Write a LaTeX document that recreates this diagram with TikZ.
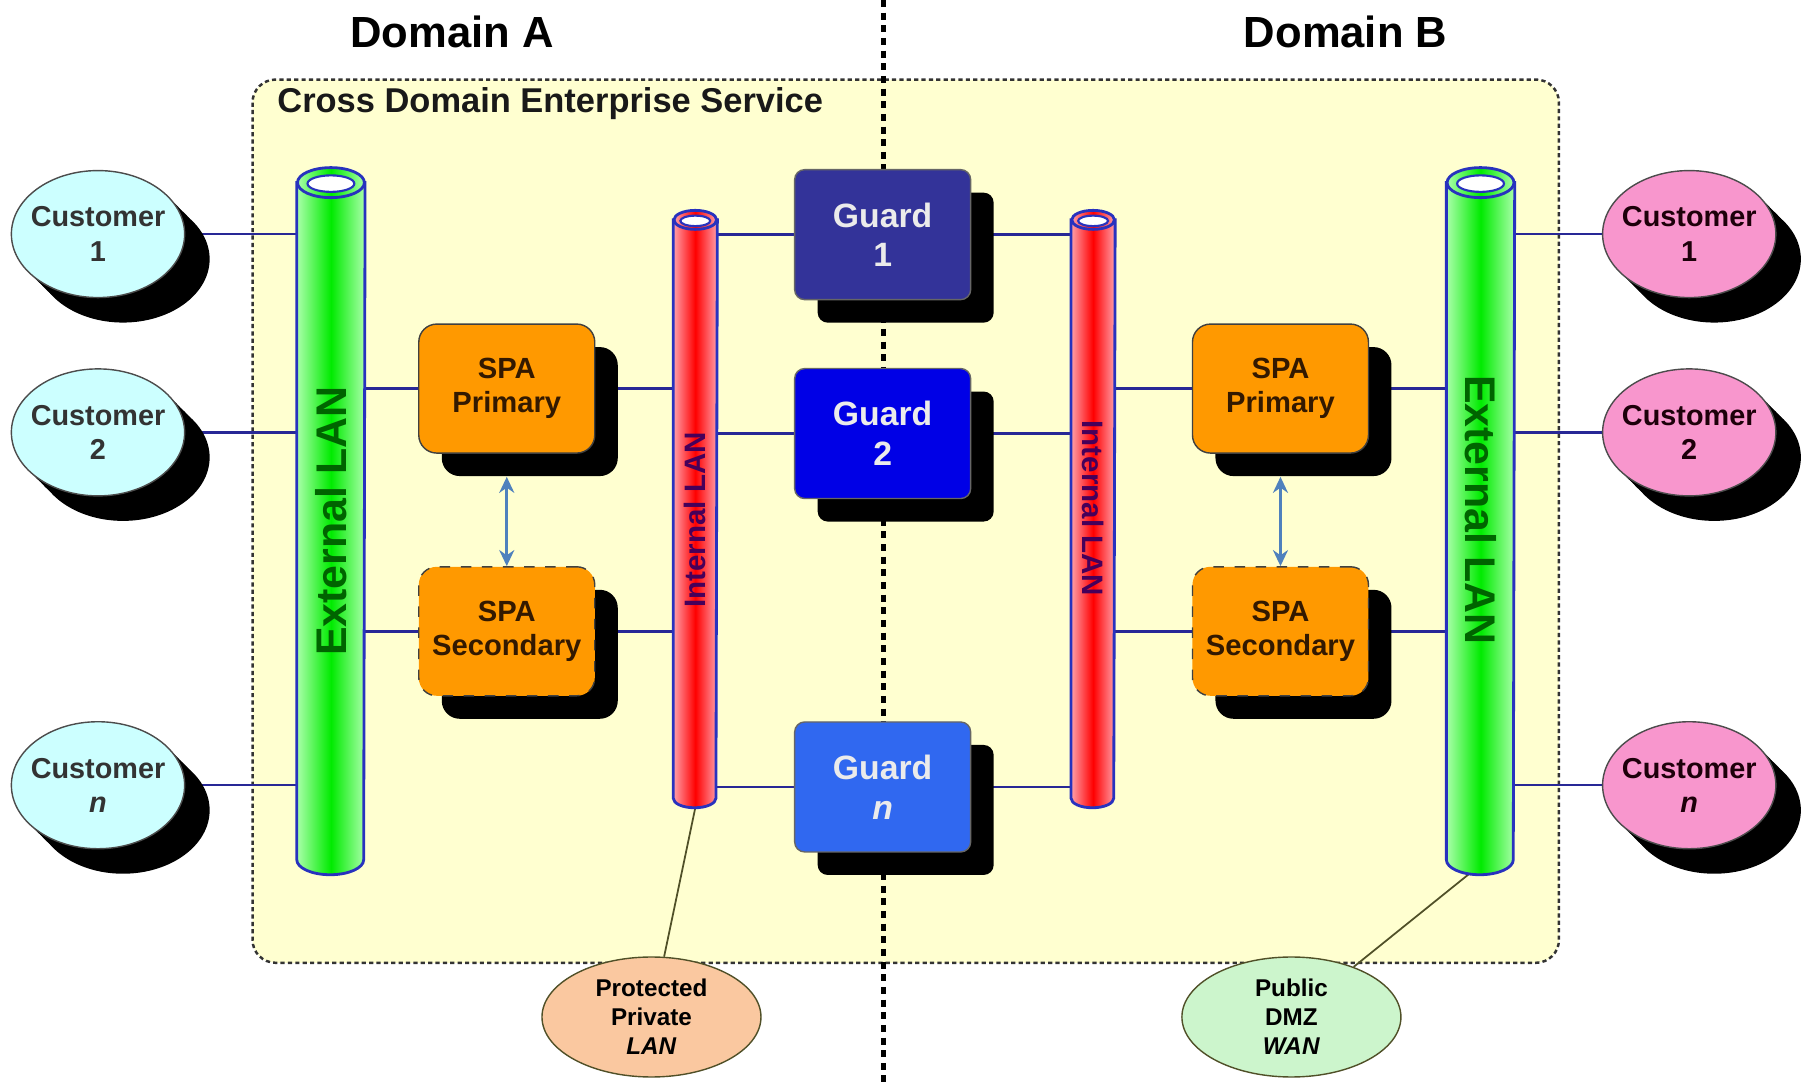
\documentclass[tikz,border=0pt]{standalone}
\usepackage{fontspec}
\setmainfont{Liberation Sans}
\usetikzlibrary{shapes,arrows.meta,positioning,calc,shadows}

\definecolor{boxyellow}{RGB}{255,255,208}
\definecolor{linkblue}{RGB}{40,40,150}
\definecolor{custcyan}{RGB}{204,255,255}
\definecolor{custpink}{RGB}{248,150,205}
\definecolor{spaorange}{RGB}{255,153,0}
\definecolor{guardone}{RGB}{51,51,153}
\definecolor{guardtwo}{RGB}{0,0,230}
\definecolor{guardn}{RGB}{48,104,240}
\definecolor{pipeedge}{RGB}{40,50,190}
\definecolor{extpale}{RGB}{170,255,170}
\definecolor{extmid}{RGB}{0,235,0}
\definecolor{intpale}{RGB}{255,160,170}
\definecolor{intmid}{RGB}{255,0,0}
\definecolor{lantext}{RGB}{0,100,0}
\definecolor{intlantext}{RGB}{70,0,90}
\definecolor{peach}{RGB}{250,200,160}
\definecolor{mint}{RGB}{204,245,204}
\definecolor{olive}{RGB}{80,80,40}
\definecolor{arrowblue}{RGB}{79,129,189}

\pgfdeclarelayer{bg}
\pgfdeclarelayer{lines}
\pgfsetlayers{bg,lines,main}

\begin{document}
\begin{tikzpicture}
[
	x=0.11531mm, y=0.11531mm,
	title/.style={font=\bfseries\fontsize{12.4}{14}\selectfont},
	svctitle/.style={inner sep=0pt, font=\bfseries\fontsize{9.8}{12}\selectfont, text=black!90},
	svcbox/.style={fill=boxyellow, draw=black!80, line width=0.7pt, dash pattern=on 1.2pt off 0.9pt, rounded corners=2.3mm},
	border/.style={line width=1.4pt, dash pattern=on 2pt off 1.6pt},
	cust/.style={ellipse, draw=black!70, thin, minimum width=17.3mm, minimum height=12.7mm, inner ysep=0pt, inner xsep=-0.6mm, align=center,
		font=\bfseries\fontsize{8.2}{9.8}\selectfont,
		general shadow={fill=black, shadow xshift=0.85mm, shadow yshift=-0.85mm},
		general shadow={fill=black, shadow xshift=1.7mm, shadow yshift=-1.7mm},
		general shadow={fill=black, shadow xshift=2.5mm, shadow yshift=-2.5mm}},
	guard/.style={rectangle, rounded corners=1mm, draw=black!60, minimum width=17.6mm, minimum height=13mm, align=center,
		text=white!92!black, font=\bfseries\fontsize{9.6}{11.3}\selectfont,
		drop shadow={shadow xshift=2.3mm, shadow yshift=-2.3mm, fill=black, opacity=1}},
	spa/.style={rectangle, rounded corners=1.8mm, draw=black!75, fill=spaorange, minimum width=17.6mm, minimum height=12.9mm, align=center,
		text=black!80!orange, font=\bfseries\fontsize{8.3}{9.8}\selectfont,
		drop shadow={shadow xshift=2.3mm, shadow yshift=-2.3mm, fill=black, opacity=1}},
	pipe/.style={rectangle, inner sep=0pt},
	extlab/.style={text=lantext, font=\bfseries\fontsize{12.2}{14}\selectfont},
	intlab/.style={text=intlantext, font=\bfseries\fontsize{8.4}{10}\selectfont},
	note/.style={ellipse, draw=olive, minimum width=21.9mm, minimum height=12mm, inner sep=0pt, align=center,
		font=\bfseries\fontsize{6.9}{8.2}\selectfont},
	link/.style={draw=linkblue, line width=0.7pt},
	callout/.style={draw=olive, line width=0.5pt},
	pairarrow/.style={draw=arrowblue, line width=0.8pt, {Stealth[length=1.6mm,width=1.5mm]}-{Stealth[length=1.6mm,width=1.5mm]}},
]
	\useasboundingbox (0,0) rectangle (1568,-940);

	% service area and domain border
	\begin{pgfonlayer}{bg}
		\draw[svcbox] (219,-69) rectangle (1352,-835);
	\end{pgfonlayer}
	\begin{pgfonlayer}{lines}
		\draw[border] (766,0) -- (766,-940);
	\end{pgfonlayer}

	\node[title] (domA) at (392,-28) {Domain A};
	\node[title] (domB) at (1167,-28) {Domain B};
	\node[svctitle, anchor=west] (svc) at (240,-90) {Cross Domain Enterprise Service};

	% LAN pipes
	\node[pipe, minimum width=6.69mm, minimum height=70.57mm] (extA) at (287,-452) {};
	\node[pipe, minimum width=6.69mm, minimum height=70.57mm] (extB) at (1284,-452) {};
	\node[pipe, minimum width=4.27mm, minimum height=59.6mm] (intA) at (603,-441.5) {};
	\node[pipe, minimum width=4.27mm, minimum height=59.6mm] (intB) at (948,-441.5) {};

	\foreach \p/\rx/\ry/\pl/\pm in {extA/3.345/1.5/extpale/extmid, extB/3.345/1.5/extpale/extmid,
		intA/2.135/0.95/intpale/intmid, intB/2.135/0.95/intpale/intmid}{
		\shade[left color=\pl, right color=\pl, middle color=\pm, draw=pipeedge, line width=0.8pt]
			([yshift=-\ry*1mm]\p.north west) -- ([yshift=\ry*1mm]\p.south west)
			arc[start angle=180, end angle=360, x radius=\rx*1mm, y radius=\ry*1mm]
			-- ([yshift=-\ry*1mm]\p.north east) -- cycle;
		\shade[left color=\pl, right color=\pl, middle color=\pm, draw=pipeedge, line width=0.8pt]
			([yshift=-\ry*1mm]\p.north) ellipse[x radius=\rx*1mm, y radius=\ry*1mm];
		\draw[draw=pipeedge, fill=white, line width=0.6pt]
			([yshift=-\ry*1mm-0.1mm]\p.north) ellipse[x radius=\rx*0.7mm, y radius=\ry*0.55mm];
	}

	\node[extlab, rotate=90] (extAlab) at (287,-452) {External LAN};
	\node[extlab, rotate=-90] (extBlab) at (1284,-442) {External LAN};
	\node[intlab, rotate=90] (intAlab) at (603,-451) {Internal LAN};
	\node[intlab, rotate=-90] (intBlab) at (948,-441) {Internal LAN};

	% customers
	\node[cust, fill=custcyan, text=black!80] (custA1) at (85,-203) {Customer\\1};
	\node[cust, fill=custcyan, text=black!80] (custA2) at (85,-375) {Customer\\2};
	\node[cust, fill=custcyan, text=black!80] (custAn) at (85,-681) {Customer\\\textit{n}};
	\node[cust, fill=custpink, text=black!85!purple] (custB1) at (1465,-203) {Customer\\1};
	\node[cust, fill=custpink, text=black!85!purple] (custB2) at (1465,-375) {Customer\\2};
	\node[cust, fill=custpink, text=black!85!purple] (custBn) at (1465,-681) {Customer\\\textit{n}};

	% guards
	\node[guard, fill=guardone] (guard1) at (765.5,-203.5) {Guard\\1};
	\node[guard, fill=guardtwo] (guard2) at (765.5,-376) {Guard\\2};
	\node[guard, fill=guardn] (guardn) at (765.5,-682.5) {Guard\\\textit{n}};

	% SPAs
	\node[spa] (spaAp) at (439.5,-337) {SPA\\Primary};
	\node[spa, dashed] (spaAs) at (439.5,-547.5) {SPA\\Secondary};
	\node[spa] (spaBp) at (1110.5,-337) {SPA\\Primary};
	\node[spa, dashed] (spaBs) at (1110.5,-547.5) {SPA\\Secondary};

	% network notes
	\node[note, fill=peach] (privlan) at (565,-882) {Protected\\Private\\\textit{LAN}};
	\node[note, fill=mint] (pubwan) at (1120,-882) {Public\\DMZ\\\textit{WAN}};

	% connections
	\begin{pgfonlayer}{lines}
		\foreach \c in {custA1,custA2,custAn}
			\draw[link] (\c) -- (\c -| extA.west);
		\foreach \c in {custB1,custB2,custBn}
			\draw[link] (\c -| extB.east) -- (\c);
		\foreach \g in {guard1,guard2,guardn}
			\draw[link] (\g -| intA.east) -- (\g -| intB.west);
		\foreach \s in {spaAp,spaAs}
			\draw[link] (\s -| extA.east) -- (\s -| intA.west);
		\foreach \s in {spaBp,spaBs}
			\draw[link] (\s -| intB.east) -- (\s -| extB.west);
		\draw[callout] (privlan) -- (intA.south);
		\draw[callout] (pubwan) -- ([yshift=1mm]extB.south);
	\end{pgfonlayer}

	\draw[pairarrow] ($(spaAp.south)+(0,-20)$) -- (spaAs.north);
	\draw[pairarrow] ($(spaBp.south)+(0,-20)$) -- (spaBs.north);
\end{tikzpicture}
\end{document}
